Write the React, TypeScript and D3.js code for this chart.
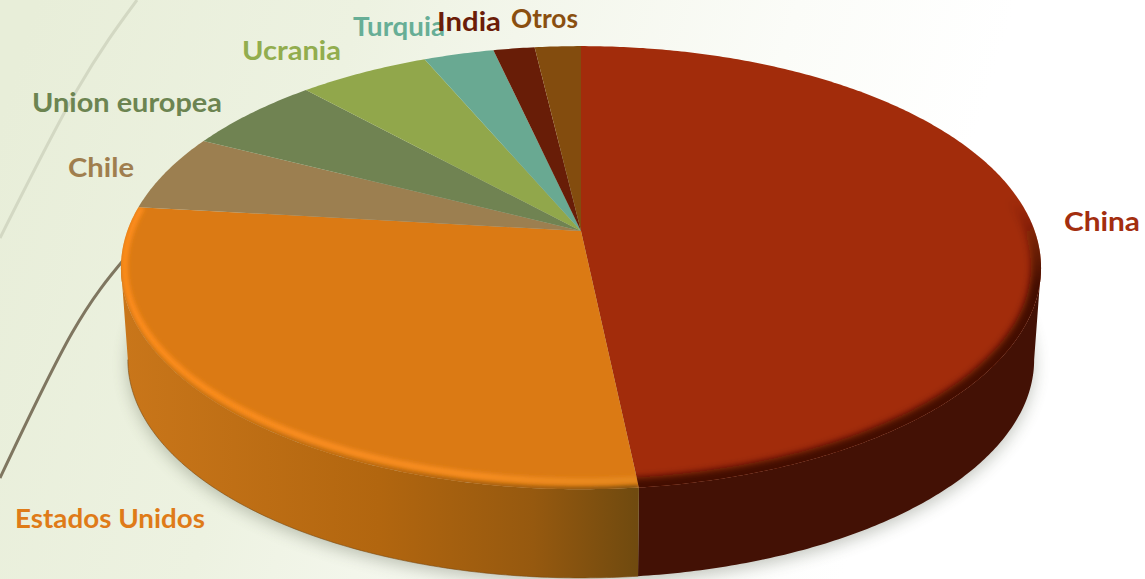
import React from "react";
import * as d3 from "d3";

const categories = ["China", "Estados Unidos", "Chile", "Union europea", "Ucrania", "Turquia", "India", "Otros"];
const shares = [48.3, 28.5, 5.6, 5.7, 5.4, 2.9, 1.7, 1.9];

const sliceColors = ["#A22C0B", "#DB7A14", "#9C7F50", "#708352", "#91A74B", "#69A992", "#681D07", "#834C0E"];
const labelColors = ["#A32E0F", "#DF7B18", "#A07E4E", "#6C8451", "#92AD4E", "#67AE96", "#6B1C08", "#8A4F10"];
// label left edge, baseline, width
const labelLayout: [number, number, number][] = [
  [1064, 231, 76], [15, 528, 190], [68, 177, 66], [32, 112, 190],
  [242, 60, 99], [353, 36, 92], [437, 31, 64], [511, 28, 67],
];

const W = 1145, H = 579;
const CX = 581, APEX_Y = 231, K = 0.1655, A = 215.5, B = 453.7;
const BOTTOM_SCALE = 0.985, ELLIPSE_Y = 268, BOTTOM_Y = 360;

// perspective projection of the unit disc
function top(angle: number, r = 1): [number, number] {
  const u = Math.sin(angle) * r, v = Math.cos(angle) * r, w = 1 + K * v;
  return [CX + (B * u) / w, APEX_Y - (A * v) / w];
}
function bottom(angle: number): [number, number] {
  const [x, y] = top(angle);
  return [CX + BOTTOM_SCALE * (x - CX), BOTTOM_Y + BOTTOM_SCALE * (y - ELLIPSE_Y)];
}
// highlight line of the bevel: pulled in from the rim, mostly upward along the front
function bevel(angle: number, lift: number): [number, number] {
  const [x, y] = top(angle);
  return [CX + 0.992 * (x - CX), y - lift * Math.max(0, -Math.cos(angle))];
}
function samples(a0: number, a1: number) {
  const n = Math.max(2, Math.ceil(Math.abs(a1 - a0) / 0.01));
  return d3.range(n + 1).map((i) => a0 + ((a1 - a0) * i) / n);
}
const line = d3.line<[number, number]>();
const smooth = d3.line<[number, number]>().curve(d3.curveNatural);

const arcs = d3.pie<number>().sort(null)(shares);
const rad = (d: number) => (d * Math.PI) / 180;

const facePath = (a0: number, a1: number) =>
  line([top(0, 0), ...samples(a0, a1).map((a) => top(a))])! + "Z";
const wallPath = (a0: number, a1: number) =>
  line([...samples(a0, a1).map((a) => top(a)), ...samples(a1, a0).map((a) => bottom(a))])! + "Z";

const paleArc: [number, number][] = [[137, 0], [77, 90], [0, 238]];
const darkArc: [number, number][] = [[126, 257], [72, 333], [0, 478]];

export default function App() {
  const china = arcs[0], usa = arcs[1];
  const wallRight = rad(99.5), wallLeft = rad(260.5);
  const font = "'Lato', 'Open Sans', sans-serif";
  return (
    <svg width={W} height={H} viewBox={`0 0 ${W} ${H}`} style={{ position: "fixed", left: 0, top: 0, display: "block" }}>
      <defs>
        <linearGradient id="bg" gradientUnits="userSpaceOnUse" x1="0" y1="120" x2="1000" y2="420">
          <stop offset="0" stopColor="#e8eed9" />
          <stop offset="0.3" stopColor="#edf2e1" />
          <stop offset="0.45" stopColor="#f3f6eb" />
          <stop offset="0.7" stopColor="#fbfcf8" />
          <stop offset="0.9" stopColor="#ffffff" />
        </linearGradient>
        <linearGradient id="wallUsa" gradientUnits="userSpaceOnUse" x1="122" y1="0" x2="636" y2="0">
          <stop offset="0" stopColor="#c9761a" />
          <stop offset="0.5" stopColor="#b2660f" />
          <stop offset="0.8" stopColor="#96590f" />
          <stop offset="1" stopColor="#704a0f" />
        </linearGradient>
        <linearGradient id="rimUsa" gradientUnits="userSpaceOnUse" x1="122" y1="0" x2="636" y2="0">
          <stop offset="0" stopColor="#ff8d1c" />
          <stop offset="0.7" stopColor="#f98f24" />
          <stop offset="1" stopColor="#e58a20" />
        </linearGradient>
        <linearGradient id="rimChina" gradientUnits="userSpaceOnUse" x1="0" y1="200" x2="0" y2="285">
          <stop offset="0" stopColor="#431105" stopOpacity="0" />
          <stop offset="1" stopColor="#431105" stopOpacity="1" />
        </linearGradient>
        <filter id="soft" x="-10%" y="-10%" width="120%" height="120%"><feGaussianBlur stdDeviation="8" /></filter>
        <filter id="blurRed" filterUnits="userSpaceOnUse" x="0" y="0" width={W} height={H}><feGaussianBlur stdDeviation="3.5" /></filter>
        <filter id="blurOrange" filterUnits="userSpaceOnUse" x="0" y="0" width={W} height={H}><feGaussianBlur stdDeviation="2.2" /></filter>
        <clipPath id="clipUsa"><path d={facePath(usa.startAngle, usa.endAngle)} /></clipPath>
        <clipPath id="clipChina"><path d={facePath(china.startAngle, china.endAngle)} /></clipPath>
      </defs>

      <rect width={W} height={H} fill="url(#bg)" />
      <path d={smooth(paleArc)!} fill="none" stroke="#d3d8c3" strokeWidth={3} />
      <path d={smooth(darkArc)!} fill="none" stroke="#7f7660" strokeWidth={3} />

      <path
        d={line(samples(0, Math.PI * 2).map(bottom))! + "Z"}
        transform="translate(0,5)"
        fill="#3c4630"
        opacity={0.3}
        filter="url(#soft)"
      />

      <path d={wallPath(wallRight, china.endAngle)} fill="#431105" />
      <path d={wallPath(usa.startAngle, wallLeft)} fill="url(#wallUsa)" />
      <path
        d={line(samples(usa.startAngle, wallLeft).map(bottom))!}
        fill="none"
        stroke="#7a4a10"
        strokeWidth={1}
        opacity={0.6}
      />

      {arcs.map((a, i) => (
        <path key={categories[i]} d={facePath(a.startAngle, a.endAngle)} fill={sliceColors[i]} />
      ))}

      <g clipPath="url(#clipUsa)">
        <path
          d={line(samples(usa.startAngle, wallLeft).map((a) => top(a)))!}
          fill="none"
          stroke="url(#wallUsa)"
          strokeWidth={5}
          filter="url(#blurOrange)"
        />
        <path
          d={line(samples(usa.startAngle, usa.endAngle).map((a) => bevel(a, 8)))!}
          fill="none"
          stroke="url(#rimUsa)"
          strokeWidth={6}
          filter="url(#blurOrange)"
        />
      </g>
      <g clipPath="url(#clipChina)">
        <path
          d={line(samples(rad(55), china.endAngle + 0.05).map((a) => top(a)))!}
          fill="none"
          stroke="url(#rimChina)"
          strokeWidth={20}
          filter="url(#blurRed)"
        />
      </g>

      {categories.map((c, i) => {
        const [x, y, len] = labelLayout[i];
        return (
          <text
            key={c}
            x={x}
            y={y}
            textLength={len}
            lengthAdjust="spacingAndGlyphs"
            fontFamily={font}
            fontWeight={700}
            fontSize={27}
            fill={labelColors[i]}
          >
            {c}
          </text>
        );
      })}
    </svg>
  );
}
